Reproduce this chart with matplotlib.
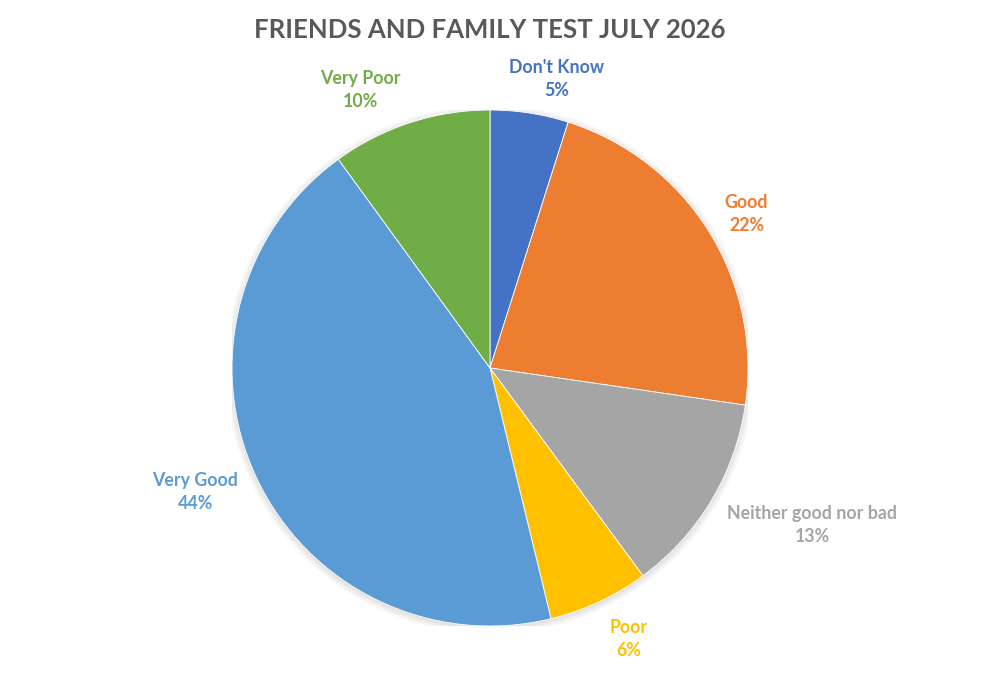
import matplotlib.pyplot as plt
import matplotlib.patches as mpatches
import numpy as np

# data (percent), clockwise from 12 o'clock
categories = ["Don't Know", 'Good', 'Neither good nor bad', 'Poor', 'Very Good', 'Very Poor']
values = [4.9, 22.4, 12.6, 6.3, 43.8, 10.0]

colors = ['#4472C4', '#ED7D31', '#A5A5A5', '#FFC000', '#5B9BD5', '#70AD47']
# label placement (Excel "best fit"): distance in radii, clockwise nudge in degrees
label_dist = [1.15, 1.16, 1.39, 1.18, 1.24, 1.19]
label_nudge = [4.2, 1.0, -5.0, -2.0, 2.0, -7.0]

plt.rcParams['font.family'] = ['Lato', 'DejaVu Sans']

fig = plt.figure(figsize=(9.82, 6.87), dpi=100)
cx, cy, r = 490, 368, 258
ax = fig.add_axes([(cx - r) / 982, (687 - cy - r) / 687, 2 * r / 982, 2 * r / 687])

# soft shadow round the pie
for k in range(6):
    ax.add_patch(mpatches.Circle((0.0, -0.006), 1.0 + 0.005 * k,
                                 color='black', alpha=0.018, lw=0, zorder=0))

wedges, _ = ax.pie(values, colors=colors, startangle=90, counterclock=False,
                   radius=1.0, wedgeprops=dict(edgecolor='white', linewidth=0.6))

ax.set_xlim(-1, 1)
ax.set_ylim(-1, 1)
ax.set_aspect('equal')
ax.axis('off')

for w, name, val, d, nd, c in zip(wedges, categories, values, label_dist, label_nudge, colors):
    ang = np.deg2rad((w.theta1 + w.theta2) / 2 - nd)
    x, y = d * np.cos(ang), d * np.sin(ang)
    ax.text(x, y, f'{name}\n{round(val)}%', ha='center', va='center',
            color=c, fontsize=12.8, fontweight='bold', linespacing=1.45)

fig.text(490 / 982, 1 - 30 / 687, 'FRIENDS AND FAMILY TEST JULY 2026',
         ha='center', va='center', fontsize=18.5, fontweight='bold', color='#595959')

fig.savefig('out.png', dpi=100)
